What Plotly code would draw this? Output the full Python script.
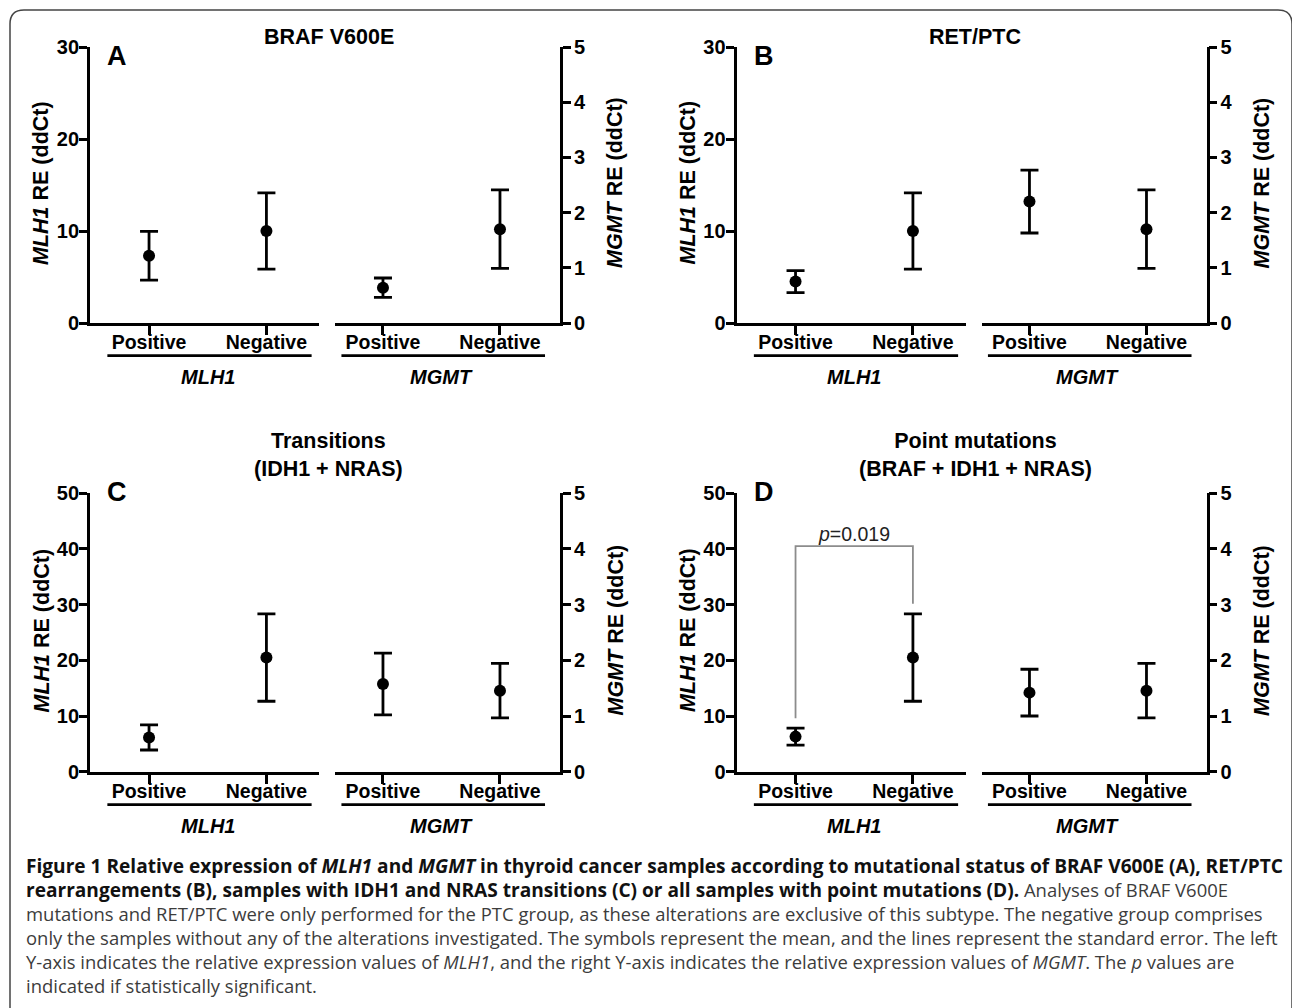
import plotly.graph_objects as go

W, H = 1292, 1008

# ---------------- data ----------------
categories = ["Positive", "Negative"]
panel_letters = ["A", "B", "C", "D"]
panel_titles = ["BRAF V600E", "RET/PTC", "Transitions<br>(IDH1 + NRAS)", "Point mutations<br>(BRAF + IDH1 + NRAS)"]
mlh1_ymax = [30, 30, 50, 50]
mgmt_ymax = [5, 5, 5, 5]

mlh1_mean = [[7.3, 10.0], [4.5, 10.0], [6.15, 20.5], [6.3, 20.5]]
mlh1_sem = [[2.65, 4.15], [1.2, 4.15], [2.25, 7.85], [1.52, 7.85]]
mgmt_mean = [[0.64, 1.70], [2.20, 1.70], [1.575, 1.455], [1.42, 1.455]]
mgmt_sem = [[0.175, 0.71], [0.57, 0.71], [0.555, 0.49], [0.42, 0.49]]

pvalue_panel = 3
pvalue_text = "<i>p</i>=0.019"
pvalue_level = 40.5
pvalue_gap = 1.8

B = "<span style='font-size:19.1px'><b>"
BE = "</b></span>"
G = "<span style='color:#3c3c3c'>"
caption_lines = [
    B + "Figure 1 Relative expression of <i>MLH1</i> and <i>MGMT</i> in thyroid cancer samples according to mutational status of BRAF V600E (A), RET/PTC" + BE,
    B + "rearrangements (B), samples with IDH1 and NRAS transitions (C) or all samples with point mutations (D)." + BE + " " + G + "Analyses of BRAF V600E</span>",
    G + "mutations and RET/PTC were only performed for the PTC group, as these alterations are exclusive of this subtype. The negative group comprises</span>",
    G + "only the samples without any of the alterations investigated. The symbols represent the mean, and the lines represent the standard error. The left</span>",
    G + "Y-axis indicates the relative expression values of <i>MLH1</i>, and the right Y-axis indicates the relative expression values of <i>MGMT</i>. The <i>p</i> values are</span>",
    G + "indicated if statistically significant.</span>",
]

# ---------------- helpers ----------------
def fx(px):
    return px / W

def fy(py):
    return 1 - py / H

FONT = "Liberation Sans, Arial, sans-serif"
LW = 2.8
fig = go.Figure()
layout = {}
annotations = []
shapes = []

for p in range(4):
    col, row = p % 2, p // 2
    ox = 0 if col == 0 else 646.5
    ytop, ybot = (47, 323) if row == 0 else (493.3, 771.7)
    ydom = [fy(ybot), fy(ytop)]
    ymid = (ytop + ybot) / 2 - 2
    segs = [
        (90 + ox, 319 + ox, [-0.503, 1.448], "left", mlh1_ymax[p], 10, mlh1_mean[p], mlh1_sem[p],
         "<b><i>MLH1</i> RE (ddCt)</b>", "MLH1", 41 + ox),
        (335 + ox, 560 + ox, [-0.41, 1.513], "right", mgmt_ymax[p], 1, mgmt_mean[p], mgmt_sem[p],
         "<b><i>MGMT</i> RE (ddCt)</b>", "MGMT", 615 + ox),
    ]
    for s, (x0, x1, xr, side, ymax, dt, mean, sem, ytitle, group, tx) in enumerate(segs):
        idx = p * 2 + s + 1
        xa = "xaxis" if idx == 1 else f"xaxis{idx}"
        ya = "yaxis" if idx == 1 else f"yaxis{idx}"
        xref = "x" if idx == 1 else f"x{idx}"
        yref = "y" if idx == 1 else f"y{idx}"
        layout[xa] = dict(
            domain=[fx(x0), fx(x1)], anchor=yref, type="category", range=xr,
            showline=True, linecolor="black", linewidth=LW, ticks="outside",
            ticklen=9, tickwidth=LW, tickcolor="black", showgrid=False, zeroline=False,
            tickfont=dict(family=FONT, size=19.5, color="black", weight="bold"),
            ticklabelstandoff=-9, automargin=False,
            fixedrange=True,
        )
        layout[ya] = dict(
            domain=ydom, anchor=xref, side=side, range=[0, ymax], dtick=dt, tick0=0,
            showline=True, linecolor="black", linewidth=LW, ticks="outside",
            ticklen=8, tickwidth=LW, tickcolor="black", showgrid=False, zeroline=False,
            tickfont=dict(family=FONT, size=20, color="black", weight="bold"),
            ticklabelstandoff=-4 if side == "left" else -1, automargin=False,
            fixedrange=True,
        )
        # y-axis title
        annotations.append(dict(
            text=ytitle, xref="paper", yref="paper", x=fx(tx), y=fy(ymid),
            textangle=-90, showarrow=False, xanchor="center", yanchor="middle",
            font=dict(family=FONT, size=21.5, color="black")))
        fig.add_trace(go.Scatter(
            x=categories, y=mean, xaxis=xref, yaxis=yref, mode="markers",
            marker=dict(color="black", size=12, symbol="circle"),
            error_y=dict(type="data", array=sem, visible=True, color="black",
                         thickness=LW, width=9),
            showlegend=False, hoverinfo="x+y",
        ))
        # underline below category labels
        shapes.append(dict(type="line", xref=xref, yref=f"{yref} domain",
                           x0=-0.355, x1=1.385, y0=-0.118, y1=-0.118,
                           line=dict(color="black", width=LW)))
        annotations.append(dict(
            text=f"<b><i>{group}</i></b>", xref=xref, yref=f"{yref} domain",
            x=0.5, y=-0.196, showarrow=False, xanchor="center", yanchor="middle",
            font=dict(family=FONT, size=20, color="black")))
        if p == pvalue_panel and s == 0:
            yb = [mean[i] + sem[i] + pvalue_gap for i in range(2)]
            fig.add_trace(go.Scatter(
                x=[categories[0], categories[0], categories[1], categories[1]],
                y=[yb[0], pvalue_level, pvalue_level, yb[1]],
                xaxis=xref, yaxis=yref, mode="lines",
                line=dict(color="#8c8c8c", width=1.8), showlegend=False, hoverinfo="skip"))
            annotations.append(dict(
                text=pvalue_text, xref=xref, yref=yref, x=0.5, y=pvalue_level,
                showarrow=False, xanchor="center", yanchor="bottom", yshift=-1,
                font=dict(family=FONT, size=19.5, color="#222222")))
    # panel title
    title_y = 37 if row == 0 else 455
    annotations.append(dict(
        text=f"<b>{panel_titles[p]}</b>", xref="paper", yref="paper",
        x=fx(328.5 + ox), y=fy(title_y), showarrow=False, xanchor="center", yanchor="middle",
        font=dict(family=FONT, size=21.5, color="black")))
    # panel letter
    letter_y = 56 if row == 0 else 492
    annotations.append(dict(
        text=f"<b>{panel_letters[p]}</b>", xref="paper", yref="paper",
        x=fx(105 + ox), y=fy(letter_y), showarrow=False, xanchor="left", yanchor="middle",
        font=dict(family=FONT, size=27, color="black")))

# caption (one block, 6 lines)
annotations.append(dict(
    text="<br>".join(caption_lines), xref="paper", yref="paper", x=fx(24), y=fy(925),
    showarrow=False, xanchor="left", yanchor="middle", align="left",
    font=dict(family="Open Sans, sans-serif", size=18.45, color="#111111")))

# rounded frame (open at bottom/right edge like the reference)
r = 14
frame = (f"M {fx(10)},{fy(H + 5)} L {fx(10)},{fy(10 + r)} "
         f"Q {fx(10)},{fy(10)} {fx(10 + r)},{fy(10)} "
         f"L {fx(1292 - r)},{fy(10)} Q {fx(1292)},{fy(10)} {fx(1292)},{fy(10 + r)} "
         f"L {fx(1292)},{fy(H + 5)}")
shapes.append(dict(type="path", xref="paper", yref="paper", path=frame,
                   line=dict(color="#444444", width=1.5)))

fig.update_layout(
    width=W, height=H, margin=dict(l=0, r=0, t=0, b=0, autoexpand=False),
    paper_bgcolor="white", plot_bgcolor="white",
    annotations=annotations, shapes=shapes, showlegend=False,
    **layout,
)
fig.write_html(
    "out.html",
    config={"displayModeBar": False},
    post_script="document.documentElement.style.margin='0';document.body.style.margin='0';"
                "document.body.style.padding='0';document.body.style.overflow='hidden';",
)
